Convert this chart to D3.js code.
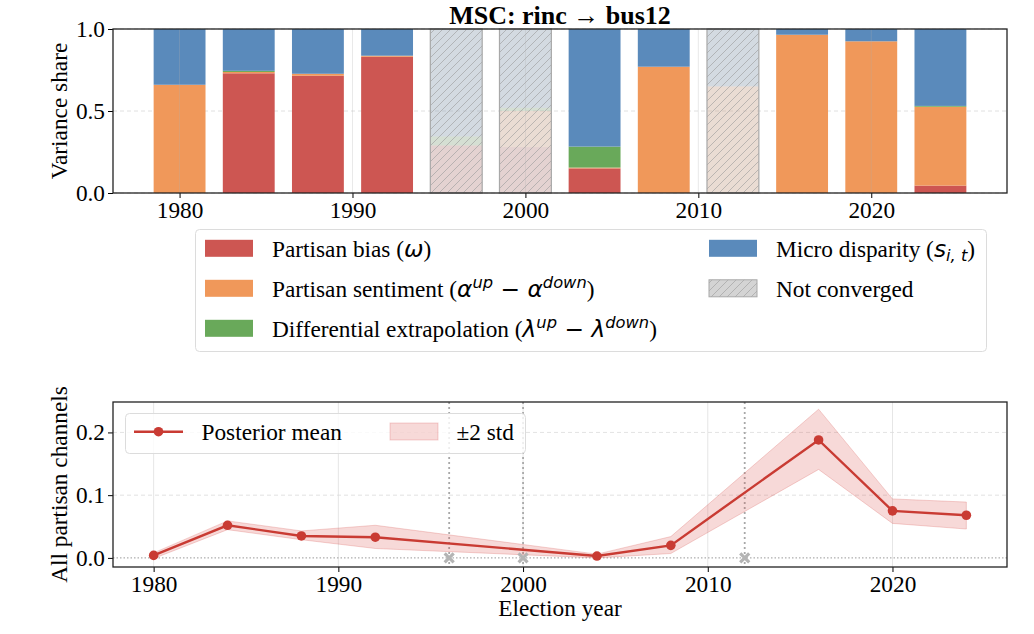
<!DOCTYPE html>
<html>
<head>
<meta charset="utf-8">
<script src="https://cdn.jsdelivr.net/npm/d3@7"></script>
<style>
  body { margin: 0; background: #fff; }
  svg { display: block; font-family: "Liberation Serif", "Times New Roman", serif; }
</style>
</head>
<body>
<div id="chart"></div>
<script>
// election years and convergence flags
const years = [1980, 1984, 1988, 1992, 1996, 2000, 2004, 2008, 2012, 2016, 2020, 2024];
const converged = [true, true, true, true, false, false, true, true, false, true, true, true];

// variance share per channel (stacked, bottom to top)
const bias      = [0.000, 0.730, 0.715, 0.831, 0.290, 0.280, 0.150, 0.000, 0.000, 0.000, 0.000, 0.045];
const sentiment = [0.660, 0.008, 0.012, 0.006, 0.000, 0.220, 0.005, 0.770, 0.650, 0.965, 0.925, 0.481];
const extrap    = [0.000, 0.007, 0.000, 0.000, 0.055, 0.020, 0.128, 0.000, 0.000, 0.000, 0.000, 0.005];
const micro     = [0.340, 0.255, 0.273, 0.163, 0.655, 0.480, 0.717, 0.230, 0.350, 0.035, 0.075, 0.469];

// all partisan channels: posterior mean and +-2 std band
const postMean = [0.004, 0.052, 0.035, 0.033, null, null, 0.003, 0.020, null, 0.188, 0.075, 0.068];
const bandLow  = [-0.001, 0.045, 0.029, 0.015, null, null, 0.000, 0.007, null, 0.141, 0.055, 0.046];
const bandHigh = [0.008, 0.059, 0.043, 0.052, null, null, 0.006, 0.034, null, 0.237, 0.094, 0.089];

const xTicks = [1980, 1990, 2000, 2010, 2020];
const yTicksTop = [0, 0.5, 1];
const yTicksBot = [0, 0.1, 0.2];

const width = 1034, height = 634;
const colors = {bias: "#cd5652", sentiment: "#f0985a", extrap: "#69a95a", micro: "#5a8abb"};
const lineColor = "#c93b33";
const fontSize = 23.3;

const svg = d3.select("#chart").append("svg")
    .attr("width", width)
    .attr("height", height);

// hatch pattern for non-converged years
const defs = svg.append("defs");
const pat = defs.append("pattern")
    .attr("id", "hatch")
    .attr("patternUnits", "userSpaceOnUse")
    .attr("width", 8).attr("height", 8);
pat.append("path")
    .attr("d", "M-2,2 L2,-2 M0,8 L8,0 M6,10 L10,6")
    .attr("stroke", "#9a9a9a").attr("stroke-width", 1).attr("opacity", 0.6);

// ---------- top panel: stacked variance shares ----------
const topBox = {l: 113, r: 1007, t: 29, b: 193};
const xTop = d3.scaleLinear().domain([1976.15, 2027.85]).range([topBox.l, topBox.r]);
const yTop = d3.scaleLinear().domain([0, 1]).range([topBox.b, topBox.t]);

const gTop = svg.append("g");

// horizontal dashed grid
gTop.append("g").selectAll("line")
    .data(yTicksTop)
    .join("line")
    .attr("x1", topBox.l).attr("x2", topBox.r)
    .attr("y1", d => yTop(d)).attr("y2", d => yTop(d))
    .attr("stroke", "#d8d8d8").attr("stroke-dasharray", "4,3").attr("stroke-width", 0.8);

const keys = ["bias", "sentiment", "extrap", "micro"];
const rows = years.map((y, i) => ({
    year: y, ok: converged[i],
    bias: bias[i], sentiment: sentiment[i], extrap: extrap[i], micro: micro[i]
}));
const stack = d3.stack().keys(keys)(rows);

gTop.append("g").selectAll("g")
    .data(stack)
    .join("g")
    .attr("fill", d => colors[d.key])
    .selectAll("rect")
    .data(d => d)
    .join("rect")
    .attr("x", d => xTop(d.data.year - 1.5))
    .attr("width", d => xTop(d.data.year + 1.5) - xTop(d.data.year - 1.5))
    .attr("y", d => yTop(d[1]))
    .attr("height", d => yTop(d[0]) - yTop(d[1]))
    .attr("opacity", d => d.data.ok ? 1 : 0.22);

// overlay for non-converged years
const notOk = rows.filter(d => !d.ok);
gTop.append("g").selectAll("rect.nc")
    .data(notOk)
    .join("rect")
    .classed("nc", true)
    .attr("x", d => xTop(d.year - 1.5))
    .attr("width", d => xTop(d.year + 1.5) - xTop(d.year - 1.5))
    .attr("y", yTop(1))
    .attr("height", yTop(0) - yTop(1))
    .attr("fill", "#c0c0c0").attr("fill-opacity", 0.3);
gTop.append("g").selectAll("rect.nch")
    .data(notOk)
    .join("rect")
    .classed("nch", true)
    .attr("x", d => xTop(d.year - 1.5))
    .attr("width", d => xTop(d.year + 1.5) - xTop(d.year - 1.5))
    .attr("y", yTop(1))
    .attr("height", yTop(0) - yTop(1))
    .attr("fill", "url(#hatch)")
    .attr("stroke", "#a8a8a8").attr("stroke-width", 1.2);

// vertical grid, drawn faintly over bars
gTop.append("g").selectAll("line")
    .data(xTicks)
    .join("line")
    .attr("x1", d => xTop(d)).attr("x2", d => xTop(d))
    .attr("y1", topBox.t).attr("y2", topBox.b)
    .attr("stroke", "#b0b0b0").attr("stroke-width", 0.8).attr("opacity", 0.35);

// axes
function styleAxis(g) {
    g.select(".domain").remove();
    g.selectAll(".tick line").attr("stroke", "#000").attr("stroke-width", 1);
    g.selectAll(".tick text")
        .attr("font-family", "Liberation Serif, serif")
        .attr("font-size", fontSize).attr("fill", "#000");
}

gTop.append("g")
    .attr("transform", `translate(0,${topBox.b})`)
    .call(d3.axisBottom(xTop).tickValues(xTicks).tickFormat(d3.format("d")).tickSize(5).tickPadding(3))
    .call(styleAxis);
gTop.append("g")
    .attr("transform", `translate(${topBox.l},0)`)
    .call(d3.axisLeft(yTop).tickValues(yTicksTop).tickFormat(d3.format(".1f")).tickSize(5).tickPadding(3))
    .call(styleAxis);

gTop.append("rect")
    .attr("x", topBox.l).attr("y", topBox.t)
    .attr("width", topBox.r - topBox.l).attr("height", topBox.b - topBox.t)
    .attr("fill", "none").attr("stroke", "#222").attr("stroke-width", 1.3);

svg.append("text")
    .attr("x", (topBox.l + topBox.r) / 2).attr("y", 23.5)
    .attr("text-anchor", "middle")
    .attr("font-size", 26).attr("font-weight", "bold")
    .text("MSC: rinc \u2192 bus12");

svg.append("text")
    .attr("transform", `translate(66.5,${(topBox.t + topBox.b) / 2}) rotate(-90)`)
    .attr("text-anchor", "middle")
    .attr("font-size", fontSize)
    .text("Variance share");

// ---------- legend for top panel ----------
const mathFont = "DejaVu Sans, sans-serif";
function richText(sel, parts) {
    parts.forEach(([txt, kind]) => {
        const t = sel.append("tspan").text(txt);
        if (kind === "it") {
            t.attr("font-family", mathFont).attr("font-style", "italic");
        } else if (kind === "sup" || kind === "sub") {
            t.attr("font-family", mathFont).attr("font-style", "italic")
             .attr("font-size", fontSize * 0.7)
             .attr("baseline-shift", kind === "sup" ? "55%" : "-25%");
        }
    });
}

const legItems = [
    {col: 0, row: 0, fill: colors.bias, parts: [["Partisan bias (", "rm"], ["\u03c9", "it"], [")", "rm"]]},
    {col: 0, row: 1, fill: colors.sentiment, parts: [["Partisan sentiment (", "rm"], ["\u03b1", "it"], ["up", "sup"], [" \u2212 ", "it"], ["\u03b1", "it"], ["down", "sup"], [")", "rm"]]},
    {col: 0, row: 2, fill: colors.extrap, parts: [["Differential extrapolation (", "rm"], ["\u03bb", "it"], ["up", "sup"], [" \u2212 ", "it"], ["\u03bb", "it"], ["down", "sup"], [")", "rm"]]},
    {col: 1, row: 0, fill: colors.micro, parts: [["Micro disparity (", "rm"], ["s", "it"], ["i, t", "sub"], [")", "rm"]]},
    {col: 1, row: 1, fill: "hatch", parts: [["Not converged", "rm"]]}
];

const leg = svg.append("g");
leg.append("rect")
    .attr("x", 195.5).attr("y", 229.5).attr("width", 791).attr("height", 122)
    .attr("rx", 4).attr("fill", "#fff").attr("stroke", "#dcdcdc").attr("stroke-width", 1);

const colX = [205, 709];
leg.selectAll("g.item")
    .data(legItems)
    .join("g")
    .classed("item", true)
    .each(function(d) {
        const g = d3.select(this);
        const cy = 248.3 + d.row * 40;
        if (d.fill === "hatch") {
            g.append("rect").attr("x", colX[d.col]).attr("y", cy - 8.5).attr("width", 48).attr("height", 17)
                .attr("fill", "#d4d4d4");
            g.append("rect").attr("x", colX[d.col]).attr("y", cy - 8.5).attr("width", 48).attr("height", 17)
                .attr("fill", "url(#hatch)").attr("stroke", "#a8a8a8").attr("stroke-width", 1);
        } else {
            g.append("rect").attr("x", colX[d.col]).attr("y", cy - 8.5).attr("width", 48).attr("height", 17)
                .attr("fill", d.fill);
        }
        const t = g.append("text")
            .attr("x", colX[d.col] + 67).attr("y", cy + 8.2)
            .attr("font-size", fontSize);
        richText(t, d.parts);
    });

// ---------- bottom panel: all partisan channels ----------
const botBox = {l: 113, r: 1007, t: 402, b: 567};
const xBot = d3.scaleLinear().domain([1977.8, 2026.2]).range([botBox.l, botBox.r]);
const yBot = d3.scaleLinear().domain([-0.0145, 0.2485]).range([botBox.b, botBox.t]);

const gBot = svg.append("g");

gBot.append("g").selectAll("line")
    .data(xTicks)
    .join("line")
    .attr("x1", d => xBot(d)).attr("x2", d => xBot(d))
    .attr("y1", botBox.t).attr("y2", botBox.b)
    .attr("stroke", "#e6e6e6").attr("stroke-width", 1);
gBot.append("g").selectAll("line")
    .data(yTicksBot.filter(d => d > 0))
    .join("line")
    .attr("x1", botBox.l).attr("x2", botBox.r)
    .attr("y1", d => yBot(d)).attr("y2", d => yBot(d))
    .attr("stroke", "#dadada").attr("stroke-dasharray", "4,3").attr("stroke-width", 0.8);

// zero reference line
gBot.append("line")
    .attr("x1", botBox.l).attr("x2", botBox.r)
    .attr("y1", yBot(0)).attr("y2", yBot(0))
    .attr("stroke", "#999").attr("stroke-dasharray", "1.5,2").attr("stroke-width", 1);

// non-converged years: dotted verticals and x markers
const ncYears = years.filter((y, i) => !converged[i]);
gBot.append("g").selectAll("line")
    .data(ncYears)
    .join("line")
    .attr("x1", d => xBot(d)).attr("x2", d => xBot(d))
    .attr("y1", botBox.t).attr("y2", botBox.b)
    .attr("stroke", "#a8a8a8").attr("stroke-dasharray", "2,3").attr("stroke-width", 1.8);

const pts = years.map((y, i) => ({year: y, m: postMean[i], lo: bandLow[i], hi: bandHigh[i]}))
    .filter(d => d.m !== null);

gBot.append("path")
    .datum(pts)
    .attr("d", d3.area().x(d => xBot(d.year)).y0(d => yBot(d.lo)).y1(d => yBot(d.hi)))
    .attr("fill", "#d9534f").attr("fill-opacity", 0.22)
    .attr("stroke", "#d9534f").attr("stroke-opacity", 0.25).attr("stroke-width", 1);

gBot.append("path")
    .datum(pts)
    .attr("d", d3.line().x(d => xBot(d.year)).y(d => yBot(d.m)))
    .attr("fill", "none").attr("stroke", lineColor).attr("stroke-width", 2.4);

gBot.append("g").selectAll("circle")
    .data(pts)
    .join("circle")
    .attr("cx", d => xBot(d.year)).attr("cy", d => yBot(d.m))
    .attr("r", 4.8).attr("fill", lineColor);

// thick gray crosses at zero for non-converged years
gBot.append("g").selectAll("path")
    .data(ncYears)
    .join("path")
    .attr("transform", d => `translate(${xBot(d)},${yBot(0)})`)
    .attr("d", "M-4.5,-4.5L4.5,4.5M-4.5,4.5L4.5,-4.5")
    .attr("fill", "none").attr("stroke", "#b4b4b4").attr("stroke-width", 3.2);

gBot.append("g")
    .attr("transform", `translate(0,${botBox.b})`)
    .call(d3.axisBottom(xBot).tickValues(xTicks).tickFormat(d3.format("d")).tickSize(5).tickPadding(3.5))
    .call(styleAxis);
gBot.append("g")
    .attr("transform", `translate(${botBox.l},0)`)
    .call(d3.axisLeft(yBot).tickValues(yTicksBot).tickFormat(d3.format(".1f")).tickSize(5).tickPadding(3))
    .call(styleAxis);

gBot.append("rect")
    .attr("x", botBox.l).attr("y", botBox.t)
    .attr("width", botBox.r - botBox.l).attr("height", botBox.b - botBox.t)
    .attr("fill", "none").attr("stroke", "#222").attr("stroke-width", 1.3);

svg.append("text")
    .attr("transform", `translate(66.5,${(botBox.t + botBox.b) / 2}) rotate(-90)`)
    .attr("text-anchor", "middle")
    .attr("font-size", fontSize)
    .text("All partisan channels");

svg.append("text")
    .attr("x", (botBox.l + botBox.r) / 2).attr("y", 616)
    .attr("text-anchor", "middle")
    .attr("font-size", fontSize)
    .text("Election year");

// bottom legend
const leg2 = svg.append("g");
leg2.append("rect")
    .attr("x", 125.5).attr("y", 413.5).attr("width", 400).attr("height", 40)
    .attr("rx", 4).attr("fill", "#fff").attr("fill-opacity", 0.8)
    .attr("stroke", "#dcdcdc").attr("stroke-width", 1);
leg2.append("line")
    .attr("x1", 134).attr("x2", 183).attr("y1", 431.7).attr("y2", 431.7)
    .attr("stroke", lineColor).attr("stroke-width", 2.4);
leg2.append("circle")
    .attr("cx", 158.5).attr("cy", 431.7).attr("r", 4.8).attr("fill", lineColor);
leg2.append("text")
    .attr("x", 201.5).attr("y", 440).attr("font-size", fontSize)
    .text("Posterior mean");
leg2.append("rect")
    .attr("x", 390).attr("y", 423).attr("width", 48).attr("height", 17)
    .attr("fill", "#d9534f").attr("fill-opacity", 0.22)
    .attr("stroke", "#d9534f").attr("stroke-opacity", 0.25);
leg2.append("text")
    .attr("x", 456.5).attr("y", 440).attr("font-size", fontSize)
    .text("\u00b12 std");
</script>
</body>
</html>
